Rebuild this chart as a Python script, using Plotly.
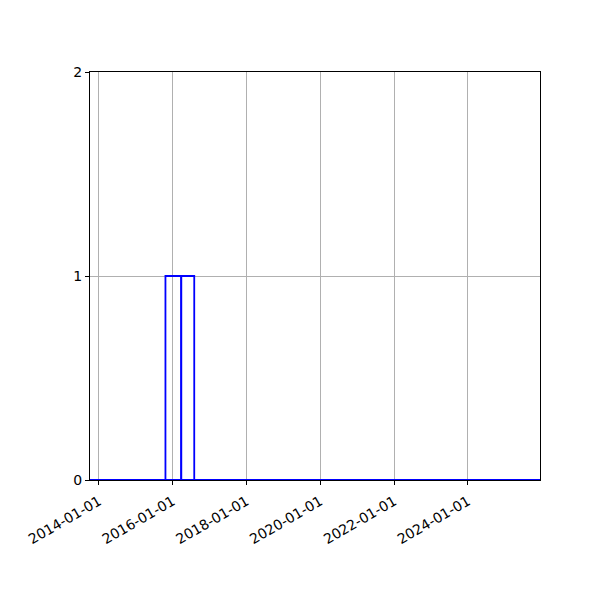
import plotly.graph_objects as go

# bin edges and counts
bin_edges = ["2013-10-04", "2015-10-21", "2016-03-25", "2016-08-01", "2025-12-15"]
counts = [0, 1, 1, 0]
tick_dates = ["2014-01-01", "2016-01-01", "2018-01-01", "2020-01-01", "2022-01-01", "2024-01-01"]

# outline of each bar, unfilled like matplotlib's bar edges
xs, ys = [], []
for left, right, c in zip(bin_edges[:-1], bin_edges[1:], counts):
    xs += [left, left, right, right, left, None]
    ys += [0, c, c, 0, 0, None]

fig = go.Figure()
fig.add_trace(go.Scatter(x=xs, y=ys, mode="lines",
                         line=dict(color="blue", width=1.8),
                         hoverinfo="skip", showlegend=False))

# page body adds 8px, so margins are shifted to keep the axes where they were
fig.update_layout(
    width=600, height=600,
    margin=dict(l=82, r=68, t=64, b=128),
    paper_bgcolor="white", plot_bgcolor="white",
    font=dict(family="DejaVu Sans", size=14, color="black"),
)
fig.update_xaxes(
    range=[bin_edges[0], bin_edges[-1]],
    tickvals=tick_dates, ticktext=tick_dates, tickangle=-30,
    showgrid=True, gridcolor="#b0b0b0", gridwidth=1,
    showline=True, linecolor="black", linewidth=1, mirror=True,
    ticks="outside", ticklen=4, tickcolor="black", zeroline=False,
    ticklabelstandoff=3,
)
fig.update_yaxes(
    range=[0, 2], tickvals=[0, 1, 2],
    showgrid=True, gridcolor="#b0b0b0", gridwidth=1,
    showline=True, linecolor="black", linewidth=1, mirror=True,
    ticks="outside", ticklen=4, tickcolor="black", zeroline=False,
)

fig.write_html("out.html")
